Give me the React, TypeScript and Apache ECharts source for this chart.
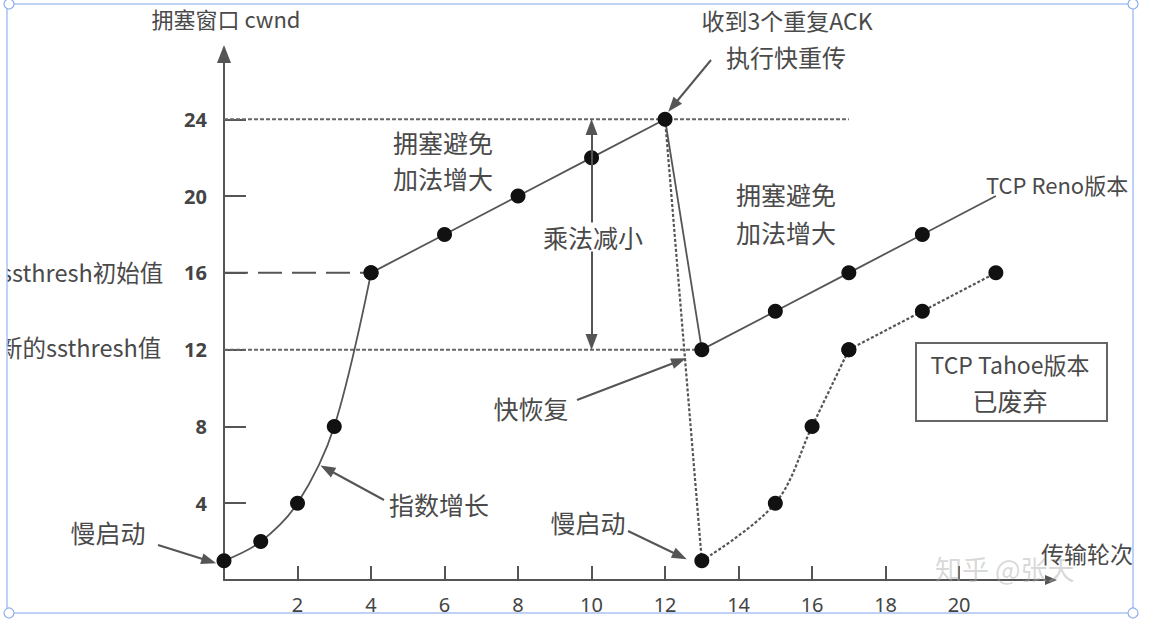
import React, { useEffect, useRef } from "react";
import * as echarts from "echarts";

// ---- data ----
const xTicks = [2, 4, 6, 8, 10, 12, 14, 16, 18, 20];
const yTicks = [4, 8, 12, 16, 20, 24];
const xMax = 22.5;
const yMax = 27.4;

const slowStart = [[0, 1], [1, 2], [2, 4], [3, 8], [4, 16]];
const congAvoid = [[4, 16], [6, 18], [8, 20], [10, 22], [12, 24]];
const renoDrop = [[12, 24], [13, 12]];
const renoAvoid = [[13, 12], [15, 14], [17, 16], [19, 18]];
const renoTail = [[19, 18], [21, 20]];
const tahoeDrop = [[12, 24], [13, 1]];
const tahoeSlow = [[13, 1], [15, 4], [16, 8], [17, 12]];
const tahoeAvoid = [[17, 12], [19, 14], [21, 16]];
const ssthreshInit = [[0, 16], [4, 16]];
const peakLine = [[0, 24], [17, 24]];
const ssthreshNew = [[0, 12], [13, 12]];
const multDecrease = [[10, 23.6], [10, 12.4]];

const CJK = "'Noto Sans CJK SC', 'Noto Sans', sans-serif";
const LAT = "'Noto Sans', 'Noto Sans CJK SC', sans-serif";
const LINE = "#555";
const DOT = "#111";

function txt(text: string, x: number, y: number, size: number, extra: any = {}) {
  return {
    type: "text",
    x,
    y,
    z: 50,
    silent: true,
    style: {
      text,
      fontSize: size,
      fontFamily: CJK,
      fill: "#4a4a4a",
      align: "center",
      verticalAlign: "middle",
      ...extra,
    },
  };
}

export default function App() {
  const ref = useRef<HTMLDivElement>(null);
  useEffect(() => {
    if (!ref.current) return;
    const chart = echarts.init(ref.current, undefined, { renderer: "svg" });

    const dotted = { color: "#666", width: 2, type: [4, 2] as any };
    const solid = { color: LINE, width: 1.8 };
    const tahoeStyle = { color: "#555", width: 2.2, type: [3, 2] as any };
    const dotSeries = (name: string, data: number[][], lineStyle: any, smooth: any = false, z = 3) => ({
      name,
      type: "line",
      data,
      smooth,
      symbol: "circle",
      symbolSize: 15,
      itemStyle: { color: DOT },
      lineStyle,
      z,
      silent: true,
      clip: false,
    });
    const plainSeries = (name: string, data: number[][], lineStyle: any, z = 2) => ({
      name,
      type: "line",
      data,
      symbol: "none",
      lineStyle,
      z,
      silent: true,
      clip: false,
    });

    const arrowLine = (from: number[], to: number[]) => [
      { x: from[0], y: from[1] },
      { x: to[0], y: to[1] },
    ];

    chart.setOption({
      animation: false,
      backgroundColor: "#fff",
      grid: { left: 224, top: 54, width: 827, height: 526 },
      xAxis: {
        type: "value",
        min: 0,
        max: xMax,
        axisLine: {
          show: true,
          symbol: ["none", "triangle"],
          symbolSize: [10, 12],
          lineStyle: { color: LINE, width: 2 },
        },
        axisTick: {
          show: true,
          inside: true,
          length: 14,
          customValues: xTicks,
          lineStyle: { color: LINE, width: 2 },
        },
        axisLabel: {
          customValues: xTicks,
          margin: 14,
          fontSize: 20,
          color: "#444",
          fontFamily: LAT,
        },
        splitLine: { show: false },
      },
      yAxis: {
        type: "value",
        min: 0,
        max: yMax,
        axisLine: {
          show: true,
          symbol: ["none", "triangle"],
          symbolSize: [14, 18],
          lineStyle: { color: LINE, width: 2 },
        },
        axisTick: {
          show: true,
          inside: true,
          length: 22,
          customValues: yTicks,
          lineStyle: { color: LINE, width: 2 },
        },
        axisLabel: {
          customValues: yTicks,
          margin: 17,
          fontSize: 20,
          fontWeight: "bold",
          color: "#444",
          fontFamily: LAT,
        },
        splitLine: { show: false },
      },
      series: [
        plainSeries("peak", peakLine, dotted, 1),
        plainSeries("ssthreshNew", ssthreshNew, dotted, 1),
        plainSeries("ssthreshInit", ssthreshInit, { color: LINE, width: 2, type: [24, 10] }, 1),
        plainSeries("tahoeDrop", tahoeDrop, tahoeStyle, 2),
        plainSeries("renoDrop", renoDrop, solid, 2),
        plainSeries("renoTail", renoTail, solid, 2),
        dotSeries("slowStart", slowStart, solid, 0.35),
        dotSeries("congAvoid", congAvoid, solid),
        dotSeries("renoAvoid", renoAvoid, solid),
        dotSeries("tahoeSlow", tahoeSlow, tahoeStyle, 0.35),
        dotSeries("tahoeAvoid", tahoeAvoid, tahoeStyle),
        {
          name: "multDecrease",
          type: "line",
          data: multDecrease,
          symbol: "none",
          lineStyle: { opacity: 0 },
          silent: true,
          clip: false,
          z: 2,
          markLine: {
            silent: true,
            symbol: ["triangle", "triangle"],
            symbolSize: [12, 16],
            label: { show: false },
            lineStyle: { color: LINE, width: 2, type: "solid" },
            emphasis: { disabled: true },
            data: [[{ coord: multDecrease[0] }, { coord: multDecrease[1] }]],
          },
        },
        {
          name: "annotations",
          type: "line",
          data: [],
          symbol: "none",
          silent: true,
          clip: false,
          z: 4,
          markLine: {
            silent: true,
            symbol: ["none", "triangle"],
            symbolSize: [11, 15],
            label: { show: false },
            lineStyle: { color: LINE, width: 2, type: "solid" },
            emphasis: { disabled: true },
            data: [
              arrowLine([158, 545], [209, 561]),
              arrowLine([384, 500], [327, 469]),
              arrowLine([628, 531], [680, 556]),
              arrowLine([577, 400], [679, 361]),
              arrowLine([711, 60], [673, 106]),
            ],
          },
        },
      ],
      graphic: [
        txt("拥塞窗口 cwnd", 226, 18, 22),
        txt("收到3个重复ACK", 787, 20, 23),
        txt("执行快重传", 786, 56, 24),
        txt("拥塞避免", 443, 142, 25),
        txt("加法增大", 443, 178, 25),
        txt("乘法减小", 593, 237, 25, { backgroundColor: "#fff", padding: [2, 0] }),
        txt("拥塞避免", 786, 194, 25),
        txt("加法增大", 786, 232, 25),
        txt("TCP Reno版本", 986, 184, 22, { align: "left" }),
        txt("快恢复", 531, 408, 25),
        txt("指数增长", 439, 504, 25),
        txt("慢启动", 108, 532, 25),
        txt("慢启动", 588, 522, 25),
        txt("ssthresh初始值", 1, 272, 23.5, { align: "left" }),
        txt("新的ssthresh值", -1, 347, 23.5, { align: "left" }),
        txt("知乎 @张天", 935, 568, 27, { align: "left", fill: "rgba(170,170,170,0.45)" }),
        txt("传输轮次", 1041, 553, 23, { align: "left" }),
        {
          type: "rect",
          z: 49,
          silent: true,
          shape: { x: 916, y: 343, width: 191, height: 78 },
          style: { fill: "#fff", stroke: "#666", lineWidth: 2 },
        },
        txt("TCP Tahoe版本", 1010, 364, 23),
        txt("已废弃", 1010, 400, 25),
        // clip margins outside the screenshot frame
        {
          type: "rect",
          z: 90,
          silent: true,
          shape: { x: 0, y: 0, width: 7, height: 625 },
          style: { fill: "#fff" },
        },
        {
          type: "rect",
          z: 90,
          silent: true,
          shape: { x: 1134, y: 0, width: 17, height: 625 },
          style: { fill: "#fff" },
        },
        {
          type: "rect",
          z: 91,
          silent: true,
          shape: { x: 7, y: 4, width: 1126, height: 609 },
          style: { fill: "none", stroke: "#a9c3f3", lineWidth: 1.5 },
        },
        ...[
          [9, 4],
          [1133, 4],
          [1133, 613],
          [9, 613],
        ].map(([cx, cy]) => ({
          type: "circle",
          z: 92,
          silent: true,
          shape: { cx, cy, r: 5 },
          style: { fill: "#fff", stroke: "#8fb0ec", lineWidth: 1.2 },
        })),
      ],
    });
    return () => chart.dispose();
  }, []);

  return (
    <div
      ref={ref}
      style={{ position: "absolute", left: 0, top: 0, width: 1151, height: 625, background: "#fff" }}
    />
  );
}
